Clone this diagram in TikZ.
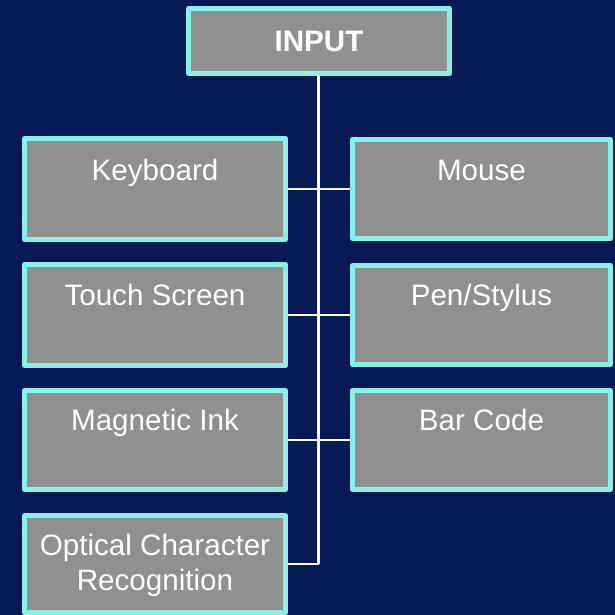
\documentclass[tikz,border=0pt]{standalone}
\usepackage{fontspec}
\setmainfont{Liberation Sans}
\definecolor{bgnavy}{RGB}{8,26,86}
\definecolor{boxgray}{RGB}{144,144,144}
\definecolor{boxedge}{RGB}{136,240,230}
\pgfdeclarelayer{backdrop}
\pgfdeclarelayer{wires}
\pgfsetlayers{backdrop,wires,main}
\begin{document}
\begin{tikzpicture}[x=1pt,y=-1pt,
  box/.style={draw=boxedge, fill=boxgray, line width=5pt, line join=round,
    rectangle, inner sep=0pt, anchor=center},
  leftbox/.style={box, minimum width=261pt, minimum height=101pt},
  rightbox/.style={box, minimum width=258pt, minimum height=99pt},
  lbl/.style={text=white, font=\fontsize{29.6}{35}\selectfont, anchor=base, inner sep=0pt},
  wire/.style={draw=white, line width=2pt},
  trunkwire/.style={draw=white, line width=2.5pt}]
  % page background
  \begin{pgfonlayer}{backdrop}
    \fill[bgnavy] (0,0) rectangle (615,615);
  \end{pgfonlayer}
  \useasboundingbox (0,0) rectangle (615,615);

  % boxes
  \node[box, minimum width=261pt, minimum height=65pt] (input) at (319,41) {};
  \node[leftbox] (kbd) at (155,189) {};
  \node[leftbox] (touch) at (155,315) {};
  \node[leftbox, minimum height=99pt] (magink) at (155,440) {};
  \node[leftbox, minimum height=97pt] (ocr) at (155,564) {};
  \node[rightbox] (mouse) at (481.5,189) {};
  \node[rightbox] (pen) at (481.5,315) {};
  \node[rightbox] (barcode) at (481.5,440) {};

  % tree connectors, kept underneath the boxes
  \begin{pgfonlayer}{wires}
    \coordinate (trunktop) at ([xshift=-0.5pt]input.south);
    \coordinate (trunkend) at (ocr.east -| trunktop);
    \draw[trunkwire] (trunktop) -- (trunkend);
    \draw[wire] (kbd.east) -- (mouse.west);
    \draw[wire] (touch.east) -- (pen.west);
    \draw[wire] (magink.east) -- (barcode.west);
    \draw[wire] (ocr.east) -- (trunkend);
  \end{pgfonlayer}

  % labels
  \node[lbl, font=\fontsize{29.6}{35}\selectfont\bfseries] (tinput) at (319,52) {INPUT};
  \node[lbl] (tkbd) at (155,180) {Keyboard};
  \node[lbl] (ttouch) at (155,305.5) {Touch Screen};
  \node[lbl] (tmag) at (155,430.5) {Magnetic Ink};
  \node[lbl] (tocr1) at (155,555) {Optical Character};
  \node[lbl] (tocr2) at (155,590) {Recognition};
  \node[lbl] (tmouse) at (481.5,180) {Mouse};
  \node[lbl] (tpen) at (481.5,305) {Pen/Stylus};
  \node[lbl] (tbar) at (481.5,430.5) {Bar Code};
\end{tikzpicture}
\end{document}
